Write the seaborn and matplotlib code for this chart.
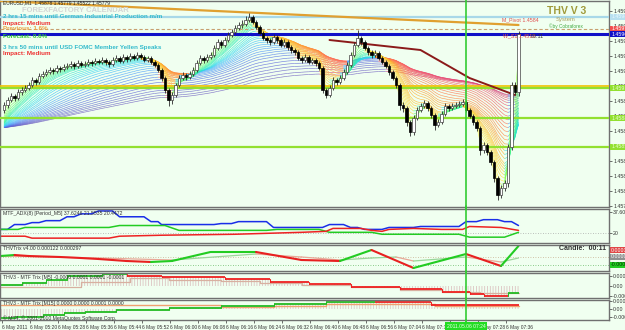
import numpy as np
import matplotlib
matplotlib.use("Agg")
import matplotlib.pyplot as plt
import matplotlib.transforms as mtransforms
from matplotlib.collections import LineCollection
from matplotlib.colors import LinearSegmentedColormap
import seaborn as sns

sns.set_theme(style="white")
plt.rcParams['font.family'] = ['Liberation Sans', 'DejaVu Sans']
plt.rcParams['hatch.linewidth'] = 0.5

# ---------------- data: EURUSD M1 candles ----------------
opens = [1.45890, 1.45895, 1.45900, 1.45904, 1.45902, 1.45908, 1.45910, 1.45912, 1.45915, 1.45920,
         1.45918, 1.45924, 1.45926, 1.45928, 1.45930, 1.45929, 1.45932, 1.45931, 1.45933, 1.45934,
         1.45936, 1.45934, 1.45937, 1.45935, 1.45936, 1.45938, 1.45937, 1.45939, 1.45938, 1.45940,
         1.45938, 1.45936, 1.45940, 1.45942, 1.45939, 1.45943, 1.45941, 1.45944, 1.45942, 1.45945,
         1.45943, 1.45940, 1.45942, 1.45938, 1.45935, 1.45930, 1.45922, 1.45910, 1.45900, 1.45905,
         1.45915, 1.45922, 1.45925, 1.45923, 1.45926, 1.45930, 1.45937, 1.45942, 1.45940, 1.45943,
         1.45945, 1.45952, 1.45958, 1.45955, 1.45960, 1.45965, 1.45968, 1.45972, 1.45975, 1.45976,
         1.45980, 1.45983, 1.45978, 1.45973, 1.45967, 1.45962, 1.45960, 1.45958, 1.45963, 1.45960,
         1.45955, 1.45958, 1.45953, 1.45950, 1.45948, 1.45942, 1.45940, 1.45943, 1.45938, 1.45940,
         1.45937, 1.45932, 1.45910, 1.45905, 1.45912, 1.45920, 1.45918, 1.45922, 1.45928, 1.45935,
         1.45945, 1.45955, 1.45962, 1.45958, 1.45952, 1.45948, 1.45945, 1.45947, 1.45942, 1.45938,
         1.45934, 1.45928, 1.45922, 1.45915, 1.45895, 1.45892, 1.45878, 1.45868, 1.45882, 1.45890,
         1.45894, 1.45897, 1.45892, 1.45885, 1.45875, 1.45878, 1.45886, 1.45894, 1.45892, 1.45894,
         1.45895, 1.45896, 1.45898, 1.45890, 1.45884, 1.45878, 1.45872, 1.45850, 1.45855, 1.45848,
         1.45838, 1.45822, 1.45805, 1.45812, 1.45817, 1.45853, 1.45915, 1.45908]
closes = [1.45895, 1.45900, 1.45904, 1.45902, 1.45908, 1.45910, 1.45912, 1.45915, 1.45920, 1.45918,
          1.45924, 1.45926, 1.45928, 1.45930, 1.45929, 1.45932, 1.45931, 1.45933, 1.45934, 1.45936,
          1.45934, 1.45937, 1.45935, 1.45936, 1.45938, 1.45937, 1.45939, 1.45938, 1.45940, 1.45938,
          1.45936, 1.45940, 1.45942, 1.45939, 1.45943, 1.45941, 1.45944, 1.45942, 1.45945, 1.45943,
          1.45940, 1.45942, 1.45938, 1.45935, 1.45930, 1.45922, 1.45910, 1.45900, 1.45905, 1.45915,
          1.45922, 1.45925, 1.45923, 1.45926, 1.45930, 1.45937, 1.45942, 1.45940, 1.45943, 1.45945,
          1.45952, 1.45958, 1.45955, 1.45960, 1.45965, 1.45968, 1.45972, 1.45975, 1.45976, 1.45980,
          1.45983, 1.45978, 1.45973, 1.45967, 1.45962, 1.45960, 1.45958, 1.45963, 1.45960, 1.45955,
          1.45958, 1.45953, 1.45950, 1.45948, 1.45942, 1.45940, 1.45943, 1.45938, 1.45940, 1.45937,
          1.45932, 1.45910, 1.45905, 1.45912, 1.45920, 1.45918, 1.45922, 1.45928, 1.45935, 1.45945,
          1.45955, 1.45962, 1.45958, 1.45952, 1.45948, 1.45945, 1.45947, 1.45942, 1.45938, 1.45934,
          1.45928, 1.45922, 1.45915, 1.45895, 1.45892, 1.45878, 1.45868, 1.45882, 1.45890, 1.45894,
          1.45897, 1.45892, 1.45885, 1.45875, 1.45878, 1.45886, 1.45894, 1.45892, 1.45894, 1.45895,
          1.45896, 1.45898, 1.45890, 1.45884, 1.45878, 1.45872, 1.45850, 1.45855, 1.45848, 1.45838,
          1.45822, 1.45805, 1.45812, 1.45817, 1.45853, 1.45915, 1.45908, 1.45966]
highs = [1.45898, 1.45903, 1.45907, 1.45906, 1.45911, 1.45913, 1.45915, 1.45918, 1.45923, 1.45922,
         1.45927, 1.45929, 1.45931, 1.45933, 1.45932, 1.45935, 1.45934, 1.45936, 1.45937, 1.45939,
         1.45938, 1.45940, 1.45939, 1.45939, 1.45941, 1.45940, 1.45942, 1.45941, 1.45943, 1.45942,
         1.45940, 1.45943, 1.45945, 1.45944, 1.45946, 1.45945, 1.45947, 1.45946, 1.45948, 1.45947,
         1.45945, 1.45944, 1.45944, 1.45940, 1.45937, 1.45932, 1.45924, 1.45912, 1.45908, 1.45917,
         1.45925, 1.45928, 1.45927, 1.45929, 1.45933, 1.45940, 1.45945, 1.45944, 1.45946, 1.45948,
         1.45955, 1.45961, 1.45960, 1.45963, 1.45968, 1.45971, 1.45975, 1.45978, 1.45980, 1.45984,
         1.45987, 1.45985, 1.45980, 1.45975, 1.45969, 1.45964, 1.45962, 1.45966, 1.45965, 1.45962,
         1.45961, 1.45960, 1.45955, 1.45952, 1.45950, 1.45944, 1.45946, 1.45945, 1.45942, 1.45942,
         1.45939, 1.45934, 1.45912, 1.45915, 1.45923, 1.45922, 1.45925, 1.45931, 1.45938, 1.45948,
         1.45958, 1.45970, 1.45964, 1.45960, 1.45954, 1.45950, 1.45950, 1.45949, 1.45944, 1.45940,
         1.45936, 1.45930, 1.45924, 1.45917, 1.45898, 1.45894, 1.45880, 1.45885, 1.45893, 1.45897,
         1.45900, 1.45899, 1.45894, 1.45887, 1.45881, 1.45889, 1.45897, 1.45896, 1.45897, 1.45898,
         1.45899, 1.45901, 1.45900, 1.45892, 1.45886, 1.45880, 1.45874, 1.45858, 1.45857, 1.45850,
         1.45840, 1.45824, 1.45815, 1.45820, 1.45856, 1.45918, 1.45918, 1.45969]
lows = [1.45887, 1.45892, 1.45898, 1.45899, 1.45900, 1.45905, 1.45908, 1.45910, 1.45913, 1.45915,
        1.45916, 1.45922, 1.45924, 1.45926, 1.45926, 1.45927, 1.45928, 1.45929, 1.45931, 1.45932,
        1.45931, 1.45932, 1.45933, 1.45933, 1.45934, 1.45934, 1.45935, 1.45936, 1.45936, 1.45935,
        1.45933, 1.45934, 1.45938, 1.45937, 1.45937, 1.45938, 1.45939, 1.45940, 1.45940, 1.45941,
        1.45938, 1.45938, 1.45936, 1.45933, 1.45928, 1.45919, 1.45907, 1.45894, 1.45896, 1.45903,
        1.45913, 1.45920, 1.45920, 1.45921, 1.45924, 1.45928, 1.45935, 1.45937, 1.45938, 1.45941,
        1.45943, 1.45950, 1.45952, 1.45953, 1.45958, 1.45963, 1.45966, 1.45970, 1.45972, 1.45974,
        1.45978, 1.45976, 1.45971, 1.45965, 1.45960, 1.45957, 1.45955, 1.45956, 1.45957, 1.45953,
        1.45953, 1.45950, 1.45947, 1.45945, 1.45940, 1.45937, 1.45938, 1.45936, 1.45936, 1.45934,
        1.45930, 1.45907, 1.45902, 1.45903, 1.45910, 1.45915, 1.45916, 1.45920, 1.45926, 1.45933,
        1.45943, 1.45953, 1.45955, 1.45950, 1.45945, 1.45942, 1.45943, 1.45940, 1.45936, 1.45932,
        1.45925, 1.45920, 1.45912, 1.45890, 1.45888, 1.45874, 1.45864, 1.45865, 1.45880, 1.45888,
        1.45892, 1.45889, 1.45882, 1.45870, 1.45873, 1.45876, 1.45884, 1.45889, 1.45890, 1.45892,
        1.45893, 1.45894, 1.45888, 1.45882, 1.45875, 1.45869, 1.45845, 1.45847, 1.45845, 1.45835,
        1.45818, 1.45800, 1.45802, 1.45809, 1.45813, 1.45850, 1.45905, 1.45904]
bars = list(range(len(closes)))

price_ticks = [1.45989, 1.45974, 1.45959, 1.45944, 1.45929, 1.45914, 1.45899,
               1.45884, 1.45869, 1.45854, 1.45839, 1.45824, 1.45809, 1.45794]
time_label_bars = [0, 8, 16, 24, 32, 40, 48, 56, 64, 72, 80, 88, 96, 104, 112, 120, 128, 136, 144]
time_labels = ["6 May 2011", "6 May 05:20", "6 May 05:28", "6 May 05:36", "6 May 05:44",
               "6 May 05:52", "6 May 06:00", "6 May 06:08", "6 May 06:16", "6 May 06:24",
               "6 May 06:32", "6 May 06:40", "6 May 06:48", "6 May 06:56", "6 May 07:04",
               "6 May 07:12", "6 May 07:20", "6 May 07:28", "6 May 07:36"]
cursor_bar = 132
cursor_label = "2011.05.06 07:24"

# indicator ribbon (EMA fan) settings
ribbon_periods = [2, 3, 4, 5, 6, 7, 8, 9, 10, 12, 14, 16, 18, 20, 23, 26, 30, 34, 38, 43,
                  48, 54, 60, 68, 76, 85, 95, 105, 118, 130]
ribbon_seed = 1.45872

# horizontal levels
lime_levels = [1.45912, 1.45882, 1.45853]
gold_level = 1.45914
r1_level = 1.45983
ask_level = 1.45971
bid_level = 1.45966
pivot_x = [-1.1, 147]
pivot_y = [1.45999, 1.45975]
maroon_x = [93, 119, 133, 146]
maroon_y = [1.45960, 1.45950, 1.45922, 1.45905]

# ADX panel
adx_x = [-1, 1, 3, 6, 8, 10, 12, 16, 18, 20, 22, 25, 27, 31, 33, 40, 42, 44, 45, 60, 62, 65, 67,
         75, 77, 91, 93, 97, 99, 101, 103, 108, 110, 117, 119, 130, 132, 135, 137, 141, 143, 145, 147]
adx_v = [23.2, 23.2, 27.2, 27.2, 28.8, 28.8, 30.4, 30.4, 33.6, 33.6, 36, 36, 38.4, 38.4, 33.6, 33.6,
         29.6, 29.6, 27.2, 27.2, 28, 28, 29.6, 29.6, 24.8, 24.8, 27.2, 27.2, 24.8, 24.8, 23.2, 23.2,
         24.8, 24.8, 25.6, 25.6, 29.6, 29.6, 31.2, 31.2, 29.6, 29.6, 26.4]
pdi_x = [-1, 4, 6, 30, 33, 46, 50, 75, 78, 90, 93, 105, 108, 130, 133, 143, 147]
pdi_v = [23.2, 23.2, 24.8, 24.8, 26.4, 26.4, 22.4, 22.4, 23.2, 23.2, 20.8, 20.8, 19.2, 19.2, 16.8, 16.8, 20.8]
mdi_x = [-1, 6, 8, 30, 33, 45, 66, 85, 92, 94, 102, 105, 108, 110, 117, 125, 131, 133, 142, 147]
mdi_v = [17.6, 17.6, 16, 16, 17.6, 18.4, 19.2, 20.8, 21.6, 24, 24, 22.4, 21.6, 23.2, 24, 23.2, 23.2,
         25.6, 24.8, 22.4]

# THV Trix panel
trix_x = [-1, 3, 7, 16, 22, 27, 35, 42, 48, 59, 72, 85, 96, 105, 117, 132, 142, 147]
trix_v = [0.00004, 0.00006, 0.00004, 0.00002, 0.0, -0.00002, -0.00006, -0.00008, -0.00006, 0.00012,
          0.00012, -0.00004, -0.00006, 0.00016, -0.0002, 0.00008, -0.00016, 0.00024]
sig_x = [-1, 27, 48, 72, 85, 96, 105, 112, 117, 132, 142, 147]
sig_v = [0.00004, 0.0, -0.00004, 0.00008, 0.00002, -0.00004, 0.0, 0.00002, -0.00006, 0.00002,
         -0.00008, 0.0]

# MTF Trix M5 panel
m5_x = [-1, 5, 12, 18, 28, 35, 45, 63, 76, 87, 99, 113, 125, 133, 137, 144, 147]
m5_v = [0.00002, 0.00006, 0.00012, 0.0002, 0.00024, 0.0002, 0.00018, 0.00014, 0.00008, 0.00004,
        -0.00002, -0.00006, -0.00012, -0.00016, -0.0002, -0.00014, -0.00014]
m5_trend = [1, 1, 1, 1, 1, 0, 0, 0, 0, 0, 0, 0, 0, 0, 0, 1]
m5s_x = [-1, 16, 22, 36, 47, 62, 73, 85, 99, 113, 125, 136, 147]
m5s_v = [-0.00002, -0.00002, 0.00008, 0.00016, 0.00012, 0.0001, 0.00006, 0.00002, -0.00002,
         -0.00008, -0.00012, -0.00014, -0.00014]

# MTF Trix M15 panel
m15_x = [-1, 3, 11, 17, 23, 32, 47, 62, 77, 92, 106, 122, 147]
m15_v = [-0.0001125, -0.0001, -0.000075, -0.00005, -0.0000375, -0.0000125, 0.0000125, 0.0000375,
         0.0000625, 0.0000875, 0.0000875, 0.00005, 0.00005]
m15_trend = [1, 1, 1, 1, 1, 1, 1, 1, 1, 1, 0, 0]
m15s_x = [-1, 47, 62, 77, 92, 122, 123, 147]
m15s_v = [0.00005, 0.00005, 0.000025, 0.0000375, 0.0000625, 0.0000625, 0.0000375, 0.0000375]

# ---------------- figure layout ----------------
W, H = 625, 330
BG = '#F0FFF0'
fig = plt.figure(figsize=(W / 100, H / 100), dpi=100, facecolor=BG)
PLOT_R = 609


def add_panel(top, bottom):
    ax = fig.add_axes([0, 1 - bottom / H, PLOT_R / W, (bottom - top) / H])
    ax.set_facecolor(BG)
    for s in ax.spines.values():
        s.set_linestyle((0, (1, 1)))
        s.set_color('#707070')
        s.set_linewidth(1.0)
    ax.set_xlim(-4 / 3.5, (PLOT_R - 4) / 3.5)
    ax.yaxis.tick_right()
    ax.tick_params(axis='y', labelsize=3.8, pad=1, length=2, width=0.5, colors='#333333', direction='out')
    ax.tick_params(axis='x', bottom=False, labelbottom=False)
    ax.grid(False)
    return ax


ax_m = add_panel(1, 207)
ax_adx = add_panel(209, 243)
ax_tr = add_panel(245, 271)
ax_m5 = add_panel(273, 298)
ax_m15 = add_panel(300, 320)

ax_m.set_ylim(1.45793, 1.45999)
ax_adx.set_ylim(12.0, 40.0)
ax_tr.set_ylim(-0.00026, 0.00026)
ax_m5.set_ylim(-0.00024, 0.00026)
ax_m15.set_ylim(-0.0001375, 0.0001125)


def ftext(x, y, s, **kw):
    fig.text(x / W, 1 - y / H, s, va='center', ha=kw.pop('ha', 'left'), **kw)


def axis_box(ax, y, s, fc, tc='white'):
    ax.annotate(s, xy=(1, y), xycoords=('axes fraction', 'data'), xytext=(1.5, 0),
                textcoords='offset points', ha='left', va='center', fontsize=3.8, color=tc,
                bbox=dict(boxstyle='square,pad=0.12', fc=fc, ec='none'), annotation_clip=False, zorder=10)


# ---------------- main chart ----------------
xs = np.array(bars, dtype=float)
cool = LinearSegmentedColormap.from_list('c', ['#8cff40', '#30f0a0', '#30dcf0', '#4aa0ff', '#5a68e0', '#7060c0'])
warm = LinearSegmentedColormap.from_list('w', ['#fff040', '#ffcc30', '#ffa030', '#ff7050', '#f05070', '#d04080'])
cl = np.array(closes)
n_r = len(ribbon_periods)
for k, p in enumerate(ribbon_periods[::-1]):
    kk = n_r - 1 - k
    a = 2.0 / (p + 1)
    ema = np.empty(len(cl))
    e = ribbon_seed
    for i, cval in enumerate(cl):
        e += a * (cval - e)
        ema[i] = e
    t = kk / (n_r - 1)
    segs = np.stack([np.column_stack([xs[:-1], ema[:-1]]), np.column_stack([xs[1:], ema[1:]])], axis=1)
    cols = [cool(t) if ema[i + 1] >= ema[i] else warm(t) for i in range(len(cl) - 1)]
    ax_m.add_collection(LineCollection(segs, colors=cols, linewidths=0.45, alpha=0.85, zorder=2))

# levels
ax_m.axhline(gold_level, color='#f2c200', lw=1.2, zorder=3)
for lv in lime_levels:
    ax_m.axhline(lv, color='#92e030', lw=1.6, zorder=3)
    axis_box(ax_m, lv, f"{lv:.5f}", '#92e030', '#e8ffd0')
ax_m.axhline(r1_level, color='#a8d8e8', lw=1.6, zorder=3)
axis_box(ax_m, r1_level, f"{r1_level:.5f}", '#b8e0f0', '#e8f8ff')
ax_m.axhline(ask_level, color='#c8a070', lw=0.8, ls=(0, (3, 2)), zorder=3)
axis_box(ax_m, ask_level, f"{ask_level:.5f}", '#f05050')
ax_m.axhline(bid_level, color='#1010c8', lw=2.2, zorder=3)
axis_box(ax_m, bid_level, f"{bid_level:.5f}", '#1010c8')

sns.lineplot(x=pivot_x, y=pivot_y, ax=ax_m, color='#e0a030', lw=1.6, estimator=None, sort=False, zorder=3)
sns.lineplot(x=maroon_x, y=maroon_y, ax=ax_m, color='#8b1a1a', lw=1.4, estimator=None, sort=False, zorder=4)

# candles
o = np.array(opens); c = np.array(closes); h = np.array(highs); l = np.array(lows)
up = c >= o
ax_m.vlines(xs, l, h, color='#2a2a2a', lw=0.6, zorder=5)
ax_m.bar(xs[up], np.maximum(c[up] - o[up], 0.000005), bottom=o[up], width=0.62, color='white',
         edgecolor='#404040', lw=0.5, zorder=6)
ax_m.bar(xs[~up], c[~up] - o[~up], bottom=o[~up], width=0.62, color='black',
         edgecolor='black', lw=0.5, zorder=6)

ax_m.set_yticks(price_ticks)
ax_m.set_yticklabels([f"{v:.5f}" for v in price_ticks])

# ---------------- ADX ----------------
ax_adx.axhline(20, color='#aaaaaa', lw=0.6, ls=(0, (1, 2)))
sns.lineplot(x=adx_x, y=adx_v, ax=ax_adx, color='#1a2ee8', lw=1.1, estimator=None, sort=False)
sns.lineplot(x=pdi_x, y=pdi_v, ax=ax_adx, color='#22cc22', lw=1.1, estimator=None, sort=False)
sns.lineplot(x=mdi_x, y=mdi_v, ax=ax_adx, color='#ee2222', lw=1.1, estimator=None, sort=False)
ax_adx.set_yticks([37.6089, 20])
ax_adx.set_yticklabels(['37.6089', '20'])

# ---------------- THV Trix ----------------
ax_tr.axhline(0.00002, color='#c8b090', lw=0.6, ls=(0, (1, 2)))
ax_tr.axhline(-0.00014, color='#66bb66', lw=0.6, ls=(0, (1, 2)))
for j in range(len(sig_x) - 1):
    col = '#9ad69a' if sig_v[j + 1] >= sig_v[j] else '#e8a898'
    ax_tr.plot(sig_x[j:j + 2], sig_v[j:j + 2], color=col, lw=0.9)
for j in range(len(trix_x) - 1):
    col = '#22cc22' if trix_v[j + 1] >= trix_v[j] else '#e82020'
    ax_tr.plot(trix_x[j:j + 2], trix_v[j:j + 2], color=col, lw=1.5, solid_capstyle='round')
ax_tr.set_yticks([])
axis_box(ax_tr, 0.00016, "0.00016", '#e04848')
axis_box(ax_tr, 0.00002, "0.00002", '#909090')
axis_box(ax_tr, -0.00014, "-0.00014", '#22cc22', '#003300')


# ---------------- MTF Trix panels ----------------
def step_line(ax, xv, vv, trend, lw):
    for j in range(len(xv) - 1):
        col = '#22bb22' if trend[j] else '#ee2020'
        ax.plot([xv[j], xv[j + 1]], [vv[j], vv[j]], color=col, lw=lw, solid_capstyle='butt')
        if j > 0:
            ax.plot([xv[j], xv[j]], [vv[j - 1], vv[j]], color=col, lw=lw * 0.6)


ax_m5.fill_between(m5_x, m5_v, 0, step='post', facecolor='none', edgecolor='#d8b8b8',
                   hatch='||||||', lw=0)
sns.lineplot(x=m5s_x, y=m5s_v, ax=ax_m5, color='#d8b0a0', lw=0.9, estimator=None, sort=False,
             drawstyle='steps-post')
step_line(ax_m5, m5_x, m5_v, m5_trend, 1.3)
ax_m5.set_yticks([0.0002, 0.0, -0.0002])
ax_m5.set_yticklabels(['0.0002', '0.00', '-0.0002'])

ax_m15.fill_between(m15_x, m15_v, 0, step='post', facecolor='none', edgecolor='#d8c0c0',
                    hatch='||||||', lw=0)
sns.lineplot(x=m15s_x, y=m15s_v, ax=ax_m15, color='#f0a070', lw=1.0, estimator=None, sort=False,
             drawstyle='steps-post')
step_line(ax_m15, m15_x, m15_v, m15_trend, 1.3)
ax_m15.set_yticks([0.0001, 0.0, -0.0001])
ax_m15.set_yticklabels(['0.0001', '0.00', '-0.0001'])

for ax in (ax_m, ax_adx, ax_tr, ax_m5, ax_m15):
    ax.set_xlim(-4 / 3.5, (PLOT_R - 4) / 3.5)
    ax.set_xlabel('')
    ax.set_ylabel('')
    ax.axvline(cursor_bar, ymin=-0.08, ymax=1.08, color='#33cc33', lw=1.2, clip_on=False, zorder=8)
ax_m15.axvline(cursor_bar, ymin=-0.5, ymax=0, color='#33cc33', lw=1.2, clip_on=False, zorder=8)

# time axis
ax_m15.tick_params(axis='x', bottom=True, labelbottom=True, labelsize=3.5, pad=1.5, length=2,
                   width=0.5, colors='#333333')
ax_m15.set_xticks([b - 0.6 for b in time_label_bars])
ax_m15.set_xticklabels(time_labels, ha='left')
trans = mtransforms.blended_transform_factory(ax_m15.transData, ax_m15.transAxes)
ax_m15.text(cursor_bar, -0.3, cursor_label, transform=trans, ha='center', va='center', fontsize=3.6,
            color='#e8ffe8', zorder=12,
            bbox=dict(boxstyle='square,pad=0.25', fc='#22dd22', ec='none'))

# ---------------- texts ----------------
ftext(3, 3, "EURUSD,M1  1.45878 1.45779 1.45522 1.45779", fontsize=3.5, color='#222222')
ftext(22, 10, "FOREXFACTORY CALENDAR", fontsize=5.5, color='#d4d4d4', fontweight='bold')
ftext(3, 16, "2 hrs 15 mins until German Industrial Production m/m", fontsize=4.5,
      color='#33bbcc', fontweight='bold')
ftext(3, 23, "Impact: Medium", fontsize=4.5, color='#ee3030', fontweight='bold')
ftext(3, 29, "Previous: 1.6%", fontsize=4.5, color='#eea040', fontweight='bold')
ftext(3, 37, "Forecast: 0.6%", fontsize=4.5, color='#33cc33', fontweight='bold')
ftext(3, 47, "3 hrs 50 mins until USD FOMC Member Yellen Speaks", fontsize=4.5,
      color='#33bbcc', fontweight='bold')
ftext(3, 54, "Impact: Medium", fontsize=4.5, color='#ee3030', fontweight='bold')

ftext(547, 11, "THV V 3", fontsize=7.5, color='#a09a3a', fontweight='bold')
ftext(556, 20, "System", fontsize=4.2, color='#a8a060')
ftext(549, 26, "\u00a9by Cobraforex", fontsize=3.4, color='#44aa44')
ftext(502, 20, "M_Pivot 1.4584", fontsize=3.8, color='#e05050')
ftext(503, 36, "W_S1 1.4518", fontsize=3.8, color='#e05050')
ftext(531, 36, "00:11", fontsize=3.8, color='#333333')

ftext(3, 213, "MTF_ADX(8) [Period_M5] 37.6246 21.5535 20.4472", fontsize=3.7, color='#333333')
ftext(3, 248, "THVTrix v4.00 0.000122 0.000297", fontsize=3.7, color='#333333')
ftext(606, 249, "Candle:  00:11", fontsize=5, color='#333333', fontweight='bold', ha='right')
ftext(3, 277, "THV3 - MTF Trix [M5] -0.0000 0.0001 0.0001 -0.0001", fontsize=3.7, color='#333333')
ftext(3, 303, "THV3 - MTF Trix [M15] 0.0000 0.0000 0.0001 0.0000", fontsize=3.7, color='#333333')
ftext(3, 318, "\u00a9 MT4, \u00a9 2001-2010 MetaQuotes Software Corp.", fontsize=3.7, color='#333333')

fig.savefig('out.png', dpi=100, facecolor=BG)
